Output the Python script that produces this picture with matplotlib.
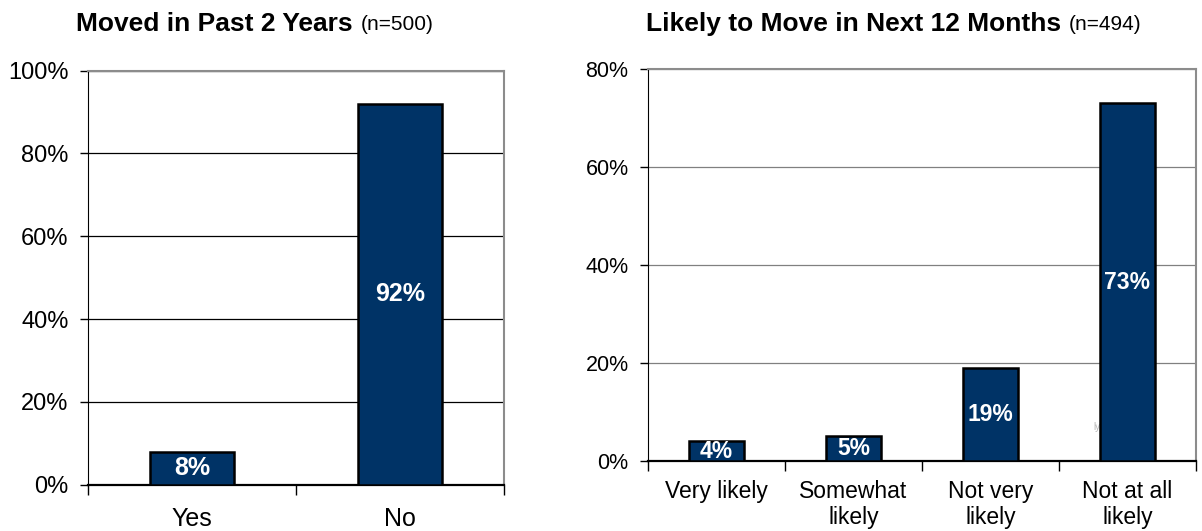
import matplotlib.pyplot as plt
import numpy as np

plt.rcParams['font.family'] = ['Liberation Sans', 'DejaVu Sans']

# data
moved_cats = ['Yes', 'No']
moved_vals = [8, 92]
likely_cats = ['Very likely', 'Somewhat\nlikely', 'Not very\nlikely', 'Not at all\nlikely']
likely_vals = [4, 5, 19, 73]

bar_color = '#003366'

fig = plt.figure(figsize=(12.02, 5.31), dpi=100)


def draw(ax, cats, vals, ymax, grid_color, tick_size, xlab_size, lab_size, xpad):
    x = np.arange(len(cats))
    ax.bar(x, vals, width=0.4, color=bar_color, edgecolor='black', linewidth=1.8, zorder=3)
    for xi, v in zip(x, vals):
        ax.text(xi, v / 2, f'{v}%', ha='center', va='center', color='white',
                fontsize=lab_size, fontweight='bold', zorder=4)
    ax.set_xlim(-0.5, len(cats) - 0.5)
    ax.set_ylim(0, ymax)
    ax.set_yticks(np.arange(0, ymax + 1, 20))
    ax.set_yticklabels([f'{t}%' for t in range(0, ymax + 1, 20)], fontsize=tick_size)
    ax.yaxis.grid(True, color=grid_color, linewidth=0.9, zorder=0)
    ax.set_axisbelow(True)
    # category ticks on the boundaries, labels in the middle
    ax.set_xticks(np.arange(len(cats) + 1) - 0.5)
    ax.set_xticklabels([''] * (len(cats) + 1))
    ax.set_xticks(x, minor=True)
    ax.set_xticklabels(cats, minor=True, fontsize=xlab_size, linespacing=1.12)
    ax.tick_params(axis='x', which='minor', length=0, pad=xpad)
    ax.tick_params(axis='x', which='major', length=7, width=1)
    ax.tick_params(axis='y', length=6, width=1, pad=8)
    for s in ['top', 'right']:
        ax.spines[s].set_color('#8c8c8c')
        ax.spines[s].set_linewidth(1.5)
    ax.spines['left'].set_color('black')
    ax.spines['bottom'].set_color('black')
    ax.spines['bottom'].set_linewidth(1.6)


ax1 = fig.add_axes([0.0732, 0.0872, 0.3461, 0.7797])
draw(ax1, moved_cats, moved_vals, 100, 'black', 17, 18, 18, 16)

ax2 = fig.add_axes([0.5391, 0.1318, 0.4559, 0.7388])
draw(ax2, likely_cats, likely_vals, 80, '#808080', 15.5, 16.5, 16.5, 14)

# stray label fragment visible in the source image
ax2.text(2.78, 7, 'ly', fontsize=7, color='#b8b8b8', ha='center', va='center', zorder=2)

# titles
fig.text(353 / 1202, 1 - 24 / 531, 'Moved in Past 2 Years', ha='right', va='center',
         fontsize=19, fontweight='bold')
fig.text(361 / 1202, 1 - 24 / 531, '(n=500)', ha='left', va='center', fontsize=15)
fig.text(1061 / 1202, 1 - 24 / 531, 'Likely to Move in Next 12 Months', ha='right', va='center',
         fontsize=19, fontweight='bold')
fig.text(1069 / 1202, 1 - 24 / 531, '(n=494)', ha='left', va='center', fontsize=15)

fig.savefig('out.png', dpi=100)
